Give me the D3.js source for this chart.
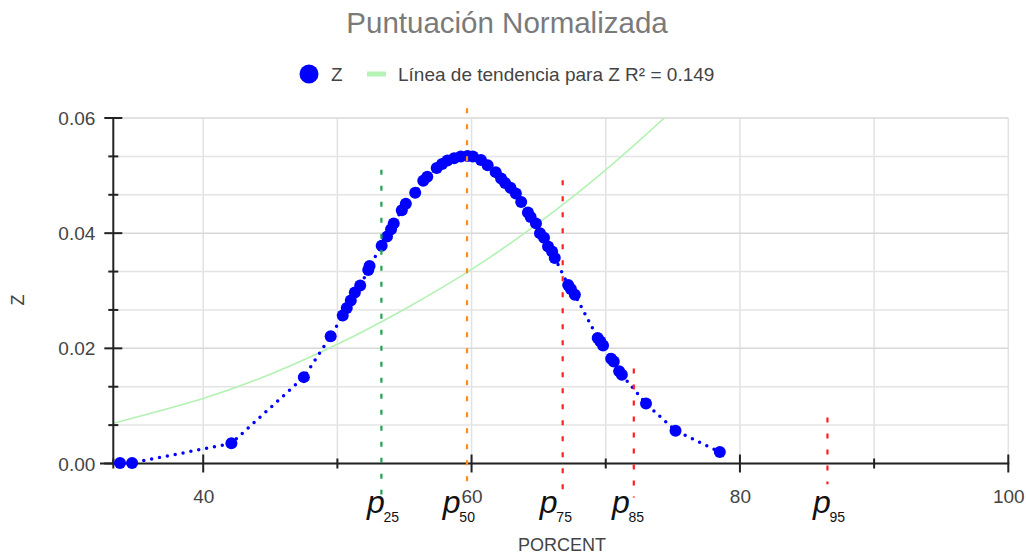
<!DOCTYPE html>
<html>
<head>
<meta charset="utf-8">
<script src="https://cdn.jsdelivr.net/npm/d3@7"></script>
<style>
  html, body { margin: 0; padding: 0; background: #fff; }
  svg { display: block; }
  text { font-family: "Liberation Sans", Arial, sans-serif; }
</style>
</head>
<body>
<svg id="chart" width="1026" height="554"></svg>
<script>
// ---- data ----
const chartTitle = "Puntuación Normalizada";
const xTitle = "PORCENT";
const yTitle = "Z";
const seriesName = "Z";
const trendName = "Línea de tendencia para Z R² = 0.149";

const porcent = [33.8, 34.7, 42.1, 47.5, 49.5, 50.4, 50.7, 51.0, 51.3, 51.7, 52.3, 52.4, 53.3, 53.7, 54.0, 54.2, 54.8, 55.1, 55.8, 56.4, 56.7, 57.4, 57.8, 58.2, 58.7, 59.2, 59.7, 60.1, 60.7, 61.2, 61.8, 62.2, 62.5, 62.9, 63.3, 63.7, 64.2, 64.4, 64.8, 65.1, 65.4, 65.7, 66.0, 66.2, 67.2, 67.4, 67.7, 69.4, 69.6, 69.8, 70.4, 70.6, 71.0, 71.2, 73.0, 75.2, 78.5];
const zValues = [0.0001, 0.0001, 0.0035, 0.0150, 0.0221, 0.0257, 0.0270, 0.0283, 0.0297, 0.0309, 0.0336, 0.0343, 0.0378, 0.0394, 0.0407, 0.0417, 0.0440, 0.0451, 0.0470, 0.0491, 0.0498, 0.0513, 0.0520, 0.0526, 0.0530, 0.0533, 0.0534, 0.0533, 0.0527, 0.0518, 0.0506, 0.0495, 0.0487, 0.0479, 0.0469, 0.0454, 0.0436, 0.0428, 0.0417, 0.0400, 0.0392, 0.0377, 0.0368, 0.0357, 0.0310, 0.0303, 0.0293, 0.0218, 0.0212, 0.0205, 0.0182, 0.0177, 0.0160, 0.0154, 0.0104, 0.0057, 0.0020];

const trendX = [33.3, 40, 45, 50, 55, 60, 65, 70, 75, 77];
const trendY = [0.0070, 0.0113, 0.0155, 0.0207, 0.0268, 0.0337, 0.0418, 0.0510, 0.0614, 0.0660];

const xMajorTicks = [40, 60, 80, 100];
const xMinorTicks = [33.3, 50, 70, 90];
const yMajorTicks = [0, 0.02, 0.04, 0.06];
const yMinorTicks = [0.02/3, 0.04/3, 0.08/3, 0.10/3, 0.14/3, 0.16/3];

const pctNames = ["25", "50", "75", "85", "95"];
const pctValues = [53.28, 59.66, 66.79, 72.09, 86.52];
const pctLabelAt = [52.2, 57.86, 65.09, 70.46, 85.44];
const pctTop = [0.0510, 0.0617, 0.0492, 0.0165, 0.0080];
const pctBottom = [-0.0054, -0.0032, -0.0046, -0.0059, -0.0036];
const pctColors = ["#1fa34f", "#ff8a1c", "#ff1f1f", "#ff1f1f", "#ff1f1f"];

// ---- layout ----
const svg = d3.select("#chart");
const plot = { left: 113.3, right: 1008.3, top: 118, bottom: 463.5 };

const x = d3.scaleLinear().domain([33.3, 100]).range([plot.left, plot.right]);
const y = d3.scaleLinear().domain([0, 0.06]).range([plot.bottom, plot.top]);

// title
svg.append("text").attr("x", 507).attr("y", 33).attr("text-anchor", "middle")
  .attr("font-size", 29.5).attr("fill", "#7a7a7a").text(chartTitle);

// legend
svg.append("circle").attr("cx", 309).attr("cy", 74).attr("r", 9.5).attr("fill", "#0000ff");
svg.append("text").attr("x", 331).attr("y", 81).attr("font-size", 19).attr("fill", "#444").text(seriesName);
svg.append("line").attr("x1", 367).attr("x2", 386).attr("y1", 74).attr("y2", 74)
  .attr("stroke", "#b6f3b6").attr("stroke-width", 5);
svg.append("text").attr("x", 398).attr("y", 81).attr("font-size", 19).attr("fill", "#444").text(trendName);

// grid
const grid = svg.append("g");
grid.selectAll(".gx").data(xMajorTicks.concat(xMinorTicks.slice(1))).join("line")
  .attr("x1", d => x(d)).attr("x2", d => x(d)).attr("y1", plot.top).attr("y2", plot.bottom)
  .attr("stroke", "#e2e2e2").attr("stroke-width", 1.5);
grid.selectAll(".gy").data(yMajorTicks.concat(yMinorTicks)).join("line")
  .attr("x1", plot.left).attr("x2", plot.right).attr("y1", d => y(d)).attr("y2", d => y(d))
  .attr("stroke", d => yMajorTicks.includes(d) ? "#d8d8d8" : "#e4e4e4").attr("stroke-width", 1.5);

// clip
svg.append("defs").append("clipPath").attr("id", "clip").append("rect")
  .attr("x", plot.left).attr("y", plot.top).attr("width", plot.right - plot.left).attr("height", plot.bottom - plot.top);

// trend line
const trendData = trendX.map((d, i) => [d, trendY[i]]);
svg.append("path").datum(trendData).attr("clip-path", "url(#clip)")
  .attr("fill", "none").attr("stroke", "#b3f2b3").attr("stroke-width", 1.6)
  .attr("d", d3.line().x(d => x(d[0])).y(d => y(d[1])).curve(d3.curveNatural));

// axes
const axX = svg.append("g").attr("transform", `translate(0,${plot.bottom})`)
  .call(d3.axisBottom(x).tickValues(xMajorTicks).tickSize(0).tickPadding(0).tickFormat(d3.format("d")));
axX.select(".domain").remove();
axX.selectAll("text").attr("font-size", 19).attr("fill", "#444").attr("dy", 0).attr("y", 39);
svg.append("line").attr("x1", 100).attr("x2", plot.right + 1).attr("y1", plot.bottom).attr("y2", plot.bottom)
  .attr("stroke", "#222").attr("stroke-width", 2);
svg.selectAll(".xmaj").data(xMajorTicks).join("line")
  .attr("x1", d => x(d)).attr("x2", d => x(d)).attr("y1", plot.bottom - 9).attr("y2", plot.bottom + 9)
  .attr("stroke", "#222").attr("stroke-width", 2);
svg.selectAll(".xmin").data(xMinorTicks).join("line")
  .attr("x1", d => x(d)).attr("x2", d => x(d)).attr("y1", plot.bottom - 5).attr("y2", plot.bottom + 5)
  .attr("stroke", "#222").attr("stroke-width", 2);

const axY = svg.append("g").attr("transform", `translate(${plot.left},0)`)
  .call(d3.axisLeft(y).tickValues(yMajorTicks).tickSize(0).tickPadding(0).tickFormat(d3.format(".2f")));
axY.select(".domain").remove();
axY.selectAll("text").attr("font-size", 19).attr("fill", "#444").attr("x", -18).attr("dy", "0.35em");
svg.append("line").attr("x1", plot.left).attr("x2", plot.left).attr("y1", plot.top).attr("y2", plot.bottom)
  .attr("stroke", "#222").attr("stroke-width", 2);
svg.selectAll(".ymaj").data(yMajorTicks).join("line")
  .attr("x1", plot.left - 9).attr("x2", plot.left + 9).attr("y1", d => y(d)).attr("y2", d => y(d))
  .attr("stroke", "#222").attr("stroke-width", 2);
svg.selectAll(".ymin").data(yMinorTicks).join("line")
  .attr("x1", plot.left - 5).attr("x2", plot.left + 5).attr("y1", d => y(d)).attr("y2", d => y(d))
  .attr("stroke", "#222").attr("stroke-width", 2);

// axis titles
svg.append("text").attr("x", 562).attr("y", 551).attr("text-anchor", "middle")
  .attr("font-size", 18).attr("fill", "#444").text(xTitle);
svg.append("text").attr("transform", "translate(24,300) rotate(-90)").attr("text-anchor", "middle")
  .attr("font-size", 18).attr("fill", "#444").text(yTitle);

// series: dotted connecting line + points
const pts = porcent.map((d, i) => [d, zValues[i]]);
svg.append("path").datum(pts).attr("fill", "none").attr("stroke", "#0000ff")
  .attr("stroke-width", 3.5).attr("stroke-linecap", "round").attr("stroke-dasharray", "0 8")
  .attr("d", d3.line().x(d => x(d[0])).y(d => y(d[1])));
svg.selectAll(".pt").data(pts).join("circle")
  .attr("cx", d => x(d[0])).attr("cy", d => y(d[1])).attr("r", 6).attr("fill", "#0000ff");

// percentile markers
const pg = svg.append("g");
pctValues.forEach((v, i) => {
  pg.append("line").attr("x1", x(v)).attr("x2", x(v)).attr("y1", y(pctTop[i])).attr("y2", y(pctBottom[i]))
    .attr("stroke", pctColors[i]).attr("stroke-width", 2.2).attr("stroke-dasharray", "5 11");
  const lx = x(pctLabelAt[i]);
  pg.append("text").attr("x", lx).attr("y", 513)
    .attr("font-family", "'Liberation Serif', 'DejaVu Serif', serif").attr("font-style", "italic")
    .attr("font-size", 32).attr("fill", "#111").text("p");
  pg.append("text").attr("x", lx + 16.5).attr("y", 522)
    .attr("font-family", "'Liberation Serif', 'DejaVu Serif', serif")
    .attr("font-size", 14).attr("fill", "#111").text(pctNames[i]);
});
</script>
</body>
</html>
